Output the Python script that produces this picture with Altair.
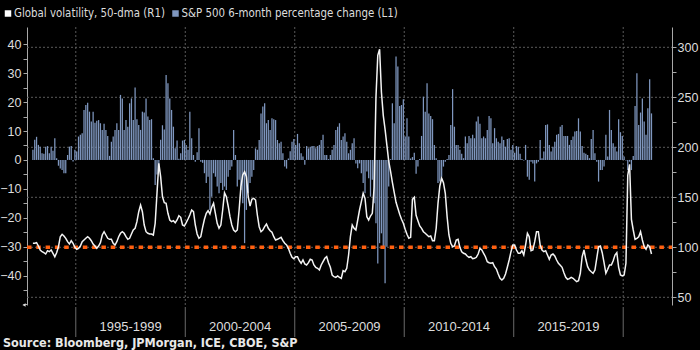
import altair as alt
import pandas as pd

start_year = 1993

# S&P 500 6-month percentage change (left axis), monthly from Jan 1993
sp500_6m_pct = [
    3.5, 7, 8, 5.2, 4.6, 2.3, 2.1, 4.6, 4.8, 2.3, 4.6, 3.2,
    7.5, 0.6, -2, -3, -3.5, -4.6, -4.6, 1.7, 4.6, 4.8, -0.5, 3.5,
    2.9, 8.1, 8.7, 9.2, 17.3, 19, 19.8, 16.7, 13.3, 16.7, 12.9, 13.6,
    13.8, 12.7, 10.4, 12.5, 10.4, 8.3, 1.4, 6.3, 8.1, 10.4, 12.7, 10.4,
    22.5, 21.3, 10.4, 13.8, 11.5, 19.6, 21.3, 13.8, 25.1, 14.1, 12.1, 10.4,
    16.7, 16.4, 21.3, 15, 13.8, 14.1, 0.6, -8.7, -5, -3, 7, 12,
    10.5, 29.4, 26.5, 21.3, 17.3, 11.5, 4, 6.7, 0.4, 2.3, 6.7, 6.9,
    5.2, 3.5, 16.7, 7.5, 1.7, -0.6, 2.7, 11, -0.6, -1, -4.6, -8,
    -5.8, -17.3, -12.7, -4.6, -5.8, -9.2, -11.5, -8, -10.4, -9.2, -10.4, -5.8,
    -3.5, -2.3, 10.4, 1.7, -9.2, -6.9, -10.4, -15, -28.8, -17.3, -11.5, -8,
    -5.8, -3.5, 4, 3.5, 6.9, 16.1, 18.5, 19.6, 12.7, 13.8, 10.4, 14.4,
    14.1, 13.8, 6.9, 5.8, 6.3, 2.3, -2.3, -3, 0.5, 3, 6.3, 7.2,
    5.2, 9, 5.8, 2.3, 1.2, -1.7, 4.8, 4, 4.6, 4.8, 4.8, 4,
    4.8, 5.2, 6.9, 8.7, 1.7, 1.7, 0.3, 1.7, 3.5, 5.2, 10.4, 11.5,
    12.7, 6.9, 8.1, 9.2, 6.3, 2.3, 3.5, 5.8, 7.5, -1.2, -2.9, -1.2,
    -4.6, -8, -11.5, -4, -6.3, -12.7, -6.9, -15, -21.9, -35.8, -28.8, -25.4,
    -30, -42.7, -30, -9.2, 0.3, 19.6, 12.7, 35.8, 32.3, 18.7, 19, 21,
    8.1, 14.4, 8.1, 0.5, 1, 2.5, -4.8, -2.3, 0.3, 8.3, 21.9, 16.7,
    26.5, 16.1, 15.2, 14.1, 5.2, 0.6, -8, -7.5, -5.8, -2.3, -0.6, 0.3,
    1.7, 12.1, 24.5, 11.5, 5.2, 5.2, 3.5, 2.1, 0.6, 8.1, 5.8, 8.3,
    7.5, 8.7, 7.5, 13.3, 15, 12.5, 7.5, 8.1, 7.5, 10.4, 15.2, 14.4,
    5.8, 11, 7.5, 6.3, 5.8, 8.1, 6.9, 4.6, 7.2, 7.5, 3.5, 5.2,
    2.5, 4.8, 4.6, 2.1, 0.3, -0.2, 5.2, -5.8, -6.9, -0.6, -1.2, -7.5,
    -1.2, -0.6, 6.9, 0.6, 2.9, 12.1, 12.3, 5.2, 2.9, 4.6, 6.3, 8.7,
    9, 11.5, 12.1, 8.3, 8.3, 8.3, 5.2, 6.9, 8.1, 9.8, 10, 14.4,
    9.8, 4.8, 2.5, 2.1, 1.7, 0.6, 7.2, 10.4, 2.3, -0.6, -7.5, -3.5,
    -3.5, -2.3, 8.7, 1.2, 17.3, 10.4, 5.8, 4.6, 2.9, 14.1, 9.6, 8.3,
    1.2, -0.2, -3.5, -0.6, -3.5, 1.4, 18.7, 30, 12.1, 16.4, 21.3, 13.3,
    8.7, 17.9, 27.9, 16.1,
]

# Global volatility, 50-dma (right axis), monthly from Jan 1993
global_vol_50dma = [
    104, 104, 104.6, 101.3, 97.3, 95.6, 94.6, 93.3, 96.6, 95.6, 97.3, 94,
    90.6, 94.6, 100.6, 110.6, 113, 111.3, 109, 105.6, 103.3, 106.6, 104, 100,
    98, 99, 101.3, 105.6, 107.3, 109, 110.6, 109, 106.6, 103.3, 101.3, 99,
    101.3, 104.6, 112.3, 115.6, 112.3, 109, 108, 108, 104, 102.3, 105.6, 110.6,
    114, 115.6, 114, 110.6, 108, 109, 113.3, 117.3, 119, 125.6, 135.6, 142.3,
    135.6, 122.3, 115.6, 114, 113.3, 113.3, 112.3, 124, 154, 184, 170.6, 150.6,
    144.6, 144, 134, 127.3, 125.6, 126.6, 124.6, 127.3, 131.6, 130, 122.3, 121.3,
    124.6, 128.3, 132.3, 137.3, 135.6, 122.3, 113.3, 109, 110.6, 120, 128, 134,
    136.6, 133.3, 140, 144, 134, 124, 119, 122.3, 137.3, 154.6, 150.6, 141.3,
    130.6, 122.3, 117.3, 115.6, 117.3, 137.3, 160.6, 172.3, 175.6, 170.6, 150.6, 141.3,
    148, 149, 147.3, 132.3, 120.6, 115.6, 117.3, 120.6, 123.3, 119, 116.6, 115,
    110.6, 107.3, 108, 109, 110, 106.6, 104, 102.3, 99, 94, 90, 88.6,
    90.6, 90.6, 86.6, 84, 87.3, 83.3, 82.3, 84.6, 88, 87.3, 82.3, 80,
    79, 77.3, 82.3, 85.6, 89, 90.6, 84.6, 80, 72.3, 70.6, 70, 71.3,
    70, 69, 76.6, 75.6, 79, 92.3, 110.6, 122.3, 119, 117.3, 127.3, 137.3,
    145.6, 154, 149, 130.6, 127.3, 131.3, 134, 160, 250, 292, 298, 255,
    232, 218, 202, 186, 176, 165, 155, 145, 139, 133, 128, 124,
    118, 113, 109, 110, 148, 150, 132, 126.6, 121.3, 119, 115.6, 114,
    112.3, 110.6, 111.3, 106.6, 106.6, 119, 144, 161.3, 169, 164.6, 154, 130.6,
    112.3, 104, 100.6, 101.3, 107.3, 108, 100, 95.6, 94, 93.3, 91.3, 90,
    90.6, 88.6, 89, 90, 93.3, 99, 97.3, 94, 90.6, 85.6, 84.6, 84,
    84.6, 80.6, 78.3, 73.3, 69, 67.3, 69, 73.3, 80, 87.3, 95.6, 102.3,
    102.3, 97.3, 94, 94, 96.6, 92.3, 102.3, 114, 110.6, 96.6, 97.3, 105.6,
    115.6, 115.6, 102.3, 97.3, 95.6, 96.6, 92.3, 88, 92.3, 93.3, 91.3, 87.3,
    84, 82, 80, 74.6, 70, 68, 68.6, 70, 69, 67.3, 65.6, 66.6,
    74, 90.6, 97.3, 88, 80.6, 77.3, 75.6, 74, 77.3, 89, 100.6, 101.3,
    94.6, 84.6, 74, 78, 82.3, 82.3, 86.6, 92.3, 94.6, 80, 72.3, 71.3,
    72.3, 84, 172, 183, 128, 117.3, 108, 109, 110.6, 115.6, 107.3, 100.6,
    98, 102.3, 100.6, 93.3,
]

period_labels = ["1995-1999", "2000-2004", "2005-2009", "2010-2014", "2015-2019"]
period_bounds = [1995, 2000, 2005, 2010, 2015, 2020]
vol_grid_values = [50, 100, 150, 200, 250, 300]
threshold_value = 100
legend_labels = ["Global volatility, 50-dma (R1)", "S&P 500 6-month percentage change (L1)"]
legend_colors = ["#ffffff", "#7f97bf"]
source_text = "Source: Bloomberg, JPMorgan, ICE, CBOE, S&P"

W, H = 645, 278
BAR_COLOR = "#7f97bf"
AXIS_COLOR = "#a8a8a8"
LABEL_COLOR = "#dddddd"
GRID_COLOR = "#5a5a5a"
NARROW = "Liberation Sans Narrow, DejaVu Sans Condensed, Liberation Sans, sans-serif"
REGULAR = "Liberation Sans, Arial, sans-serif"

n = len(sp500_6m_pct)
df = pd.DataFrame({
    "t": [start_year + (i + 0.5) / 12 for i in range(n)],
    "spx": sp500_6m_pct,
    "vol": global_vol_50dma[:n],
})

x_scale = alt.Scale(domain=[1993, 2022], nice=False, zero=False)
left_scale = alt.Scale(domain=[-50.2, 46], nice=False, zero=False)
right_scale = alt.Scale(domain=[42.3, 320.3], nice=False, zero=False)

x_axis = alt.Axis(values=list(range(1993, 2023)), labels=False, ticks=True, tickSize=4,
                  tickColor=AXIS_COLOR, domainColor=AXIS_COLOR, grid=False, title=None)

# vertical dotted grid at 5-year boundaries
bounds_df = pd.DataFrame({"b": period_bounds})
vgrid = alt.Chart(bounds_df).mark_rule(color=GRID_COLOR, strokeDash=[2, 2], strokeWidth=1).encode(
    x=alt.X("b:Q", scale=x_scale, axis=None),
    y=alt.value(0), y2=alt.value(H),
)

# horizontal dotted grid on right scale
hgrid = alt.Chart(pd.DataFrame({"g": vol_grid_values})).mark_rule(
    color=GRID_COLOR, strokeDash=[2, 2], strokeWidth=1).encode(
    y=alt.Y("g:Q", scale=right_scale, axis=None),
    x=alt.value(0), x2=alt.value(W),
)

bars = alt.Chart(df).mark_bar(color=BAR_COLOR, size=1.25).encode(
    x=alt.X("t:Q", scale=x_scale, axis=x_axis),
    y=alt.Y("spx:Q", scale=left_scale, axis=alt.Axis(
        orient="left", values=list(range(-50, 41, 5)),
        labelExpr="datum.value % 10 == 0 && datum.value > -50 ? datum.label : ''",
        tickSize=4, tickColor=AXIS_COLOR, domainColor=AXIS_COLOR, labelColor=LABEL_COLOR,
        labelFont=REGULAR, labelFontSize=12.5, labelPadding=2, labelOverlap=False,
        grid=False, title=None)),
    y2=alt.datum(0),
)

thresh = alt.Chart(pd.DataFrame({"v": [threshold_value]})).mark_rule(
    color="#ff6010", strokeWidth=3.5, strokeDash=[4.5, 4.8]).encode(
    y=alt.Y("v:Q", scale=right_scale, axis=None),
    x=alt.value(0), x2=alt.value(W),
)

vol_line = alt.Chart(df).mark_line(color="#f4f4f4", strokeWidth=1.5).encode(
    x=alt.X("t:Q", scale=x_scale, axis=x_axis),
    y=alt.Y("vol:Q", scale=right_scale, axis=alt.Axis(
        orient="right", values=list(range(50, 301, 25)),
        labelExpr="datum.value % 50 == 0 ? datum.label : ''",
        tickSize=4, tickColor=AXIS_COLOR, domainColor=AXIS_COLOR, labelColor=LABEL_COLOR,
        labelFont=REGULAR, labelFontSize=12.5, labelPadding=1, labelOverlap=False,
        grid=False, title=None)),
)

# separators below the x axis between period labels
seps = alt.Chart(bounds_df).mark_rule(color="#6a6a6a", strokeWidth=1).encode(
    x=alt.X("b:Q", scale=x_scale, axis=None),
    y=alt.value(H + 2), y2=alt.value(H + 32),
)

periods_df = pd.DataFrame({
    "label": period_labels,
    "c": [(a + b) / 2 for a, b in zip(period_bounds[:-1], period_bounds[1:])],
})
period_text = alt.Chart(periods_df).mark_text(
    color=LABEL_COLOR, font=REGULAR, fontSize=13, baseline="middle", align="center").encode(
    x=alt.X("c:Q", scale=x_scale, axis=None),
    y=alt.value(H + 22),
    text="label:N",
)

legend_df = pd.DataFrame({
    "label": legend_labels,
    "color": legend_colors,
    "px": [-19, 148.5],
})
legend_sq = alt.Chart(legend_df).mark_square(size=42, opacity=1, filled=True).encode(
    x=alt.X("px:Q", scale=None),
    y=alt.value(-13.5),
    color=alt.Color("color:N", scale=None),
)
legend_txt = alt.Chart(legend_df).mark_text(
    color=LABEL_COLOR, font=NARROW, fontSize=11.4, align="left", baseline="middle", dx=6).encode(
    x=alt.X("px:Q", scale=None),
    y=alt.value(-13),
    text="label:N",
)

source = alt.Chart(pd.DataFrame({"s": [source_text]})).mark_text(
    color="#e8e8e8", font=NARROW, fontSize=12.5, fontWeight="bold", align="left", baseline="middle").encode(
    x=alt.value(-24), y=alt.value(H + 38), text="s:N",
)

arrow = alt.Chart(pd.DataFrame({"a": [0]})).mark_point(
    shape="triangle-left", filled=True, size=14, color="#dddddd", opacity=1).encode(
    x=alt.value(-3), y=alt.value(H),
)

chart = alt.layer(
    vgrid, hgrid, bars, thresh, vol_line, seps, period_text, legend_sq, legend_txt, source, arrow
).resolve_scale(y="independent").properties(
    width=W, height=H,
    autosize=alt.AutoSizeParams(type="none"),
    padding={"left": 27, "top": 27, "right": 28, "bottom": 45},
    background="#000000",
).configure_view(stroke=None)

chart.save("out.html", embed_options={"renderer": "svg", "actions": False})
